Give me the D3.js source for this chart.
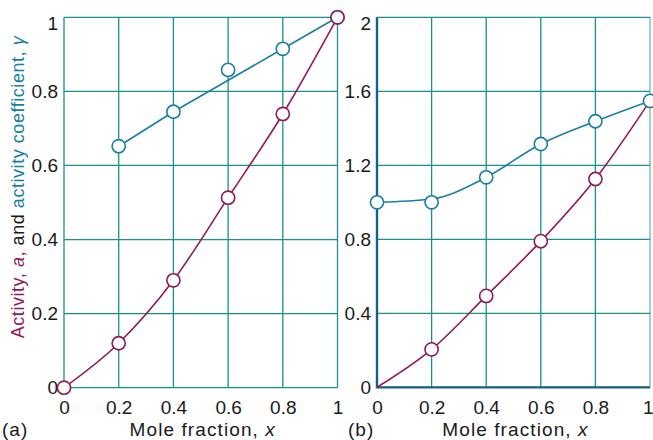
<!DOCTYPE html>
<html><head><meta charset="utf-8">
<script src="https://cdn.jsdelivr.net/npm/d3@7"></script>
<style>body{margin:0;background:#fff}svg{display:block}text{font-family:"Liberation Sans",Arial,sans-serif}</style>
</head><body><svg id="c" width="653" height="440"></svg>
<script>
const xs = [0, 0.2, 0.4, 0.6, 0.8, 1];
// panel (a)
const actA = [0, 0.12, 0.29, 0.513, 0.739, 1.0];
const gamXA = [0.2, 0.4, 0.6, 0.8, 1];
const gamA = [0.652, 0.745, 0.858, 0.915, 1.0];
const gamFitXA = [0.2, 0.4, 0.8, 1];
const gamFitA = [0.652, 0.745, 0.915, 1.0];
// panel (b)
const actXB = [0, 0.2, 0.4, 0.6, 0.8, 1];
const actB = [0, 0.205, 0.494, 0.79, 1.126, 1.548];
const actMarkXB = [0.2, 0.4, 0.6, 0.8];
const actMarkB = [0.205, 0.494, 0.79, 1.126];
const gamB = [1.0, 1.0, 1.135, 1.315, 1.438, 1.548];
const gamFitB = [1.0, 1.018, 1.135, 1.315, 1.438, 1.548];
const xTickLabels = ["0", "0.2", "0.4", "0.6", "0.8", "1"];
const yTicksA = [0, 0.2, 0.4, 0.6, 0.8, 1];
const yTickLabelsA = ["0", "0.2", "0.4", "0.6", "0.8", "1"];
const yTicksB = [0, 0.4, 0.8, 1.2, 1.6, 2];
const yTickLabelsB = ["0", "0.4", "0.8", "1.2", "1.6", "2"];

const PURPLE = "#8f1a5c", BLUE = "#1a7ea3", GRID = "#1a8f8f", AXIS = "#17627e";
const FONT = '"Liberation Sans",Arial,sans-serif';
const svg = d3.select("#c");

function panel(o) {
  const g = svg.append("g");
  const x = d3.scaleLinear().domain([0, 1]).range(o.xr);
  const y = d3.scaleLinear().domain(o.yd).range(o.yr);
  g.selectAll(".vg").data(xs).join("line")
    .attr("x1", d => x(d)).attr("x2", d => x(d)).attr("y1", y.range()[0]).attr("y2", y.range()[1])
    .attr("stroke", (d, i) => (o.lightRight && i === xs.length - 1) ? "#66b8b8" : GRID).attr("stroke-width", 1.3);
  g.selectAll(".hg").data(o.yTicks).join("line")
    .attr("y1", d => y(d)).attr("y2", d => y(d)).attr("x1", x.range()[0]).attr("x2", x.range()[1])
    .attr("stroke", GRID).attr("stroke-width", 1.3);
  if (o.darkAxes) {
    g.append("line").attr("x1", x(0)).attr("x2", x(0)).attr("y1", y.range()[0] + 1).attr("y2", y.range()[1])
      .attr("stroke", AXIS).attr("stroke-width", 2.4);
    g.append("line").attr("x1", x(0)).attr("x2", x(1)).attr("y1", y(0)).attr("y2", y(0))
      .attr("stroke", AXIS).attr("stroke-width", 2.2);
  }
  const ax = g.append("g").attr("transform", `translate(0,${y(0) + 13})`)
    .call(d3.axisBottom(x).tickValues(xs).tickFormat((d, i) => xTickLabels[i]).tickSize(0).tickPadding(0));
  ax.select(".domain").remove();
  ax.selectAll("text").attr("font-size", 19).attr("fill", "#1a1a1a").attr("dy", "0.71em")
    .attr("font-family", FONT)
    .attr("text-anchor", (d, i) => (o.lastEnd && i === xs.length - 1) ? "end" : "middle")
    .attr("x", (d, i) => (o.lastEnd && i === xs.length - 1) ? 3 : 0);
  const ay = g.append("g").attr("transform", `translate(${x(0) - 6},0)`)
    .call(d3.axisLeft(y).tickValues(o.yTicks).tickFormat((d, i) => o.yLabels[i]).tickSize(0).tickPadding(0));
  ay.select(".domain").remove();
  ay.selectAll("text").attr("font-size", 19).attr("fill", "#1a1a1a")
    .attr("font-family", FONT)
    .attr("dy", (d, i) => i === o.yTicks.length - 1 ? "0.65em" : "0.3em");
  g.append("text").attr("x", (x(0) + x(1)) / 2 + 2).attr("y", 436).attr("text-anchor", "middle")
    .attr("font-size", 19).attr("letter-spacing", 1.1).attr("fill", "#1a1a1a")
    .html('Mole fraction, <tspan font-style="italic">x</tspan>');
  g.append("text").attr("x", o.tagX).attr("y", 436).attr("font-size", 19).attr("letter-spacing", 1).attr("fill", "#1a1a1a").text(o.tag);
  return { g, x, y };
}

function series(p, X, Y, color, curve) {
  p.g.append("path").datum(X.map((d, i) => [d, Y[i]]))
    .attr("d", d3.line().x(d => p.x(d[0])).y(d => p.y(d[1])).curve(curve))
    .attr("fill", "none").attr("stroke", color).attr("stroke-width", 1.6);
}
function markers(p, X, Y, color) {
  p.g.selectAll(null).data(X.map((d, i) => [d, Y[i]])).join("circle")
    .attr("cx", d => p.x(d[0])).attr("cy", d => p.y(d[1])).attr("r", 6.6)
    .attr("fill", "#fff").attr("stroke", color).attr("stroke-width", 1.6);
}

const pa = panel({ xr: [64, 337.5], yd: [0, 1], yr: [387.7, 17.3], yTicks: yTicksA, yLabels: yTickLabelsA, tag: "(a)", tagX: 2 });
series(pa, gamFitXA, gamFitA, BLUE, d3.curveLinear);
markers(pa, gamXA, gamA, BLUE);
series(pa, xs, actA, PURPLE, d3.curveMonotoneX);
markers(pa, xs, actA, PURPLE);

const pb = panel({ xr: [377, 650], yd: [0, 2], yr: [387.3, 17.3], yTicks: yTicksB, yLabels: yTickLabelsB, tag: "(b)", tagX: 348, darkAxes: true, lightRight: true, lastEnd: true });
series(pb, actXB, actB, PURPLE, d3.curveMonotoneX);
markers(pb, actMarkXB, actMarkB, PURPLE);
series(pb, xs, gamFitB, BLUE, d3.curveMonotoneX);
markers(pb, xs, gamB, BLUE);

svg.append("text").attr("transform", "translate(24,187) rotate(-90)").attr("text-anchor", "middle")
  .attr("font-size", 18).attr("letter-spacing", 0.55)
  .html(`<tspan fill="${PURPLE}">Activity, <tspan font-style="italic">a</tspan>,</tspan><tspan fill="#1a1a1a"> and </tspan><tspan fill="${BLUE}">activity coefficient, <tspan font-style="italic">γ</tspan></tspan>`);
</script></body></html>
